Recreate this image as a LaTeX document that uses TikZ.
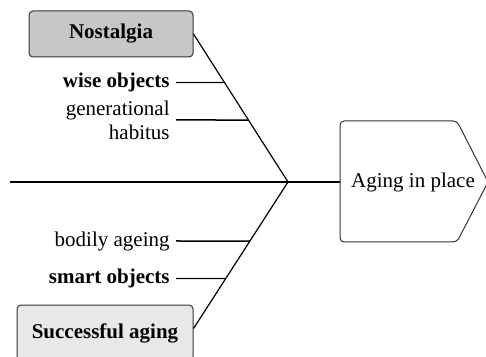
\documentclass[tikz,border=0pt]{standalone}
\usepackage{fontspec}
\setmainfont{Liberation Serif}
\usetikzlibrary{
	positioning				% relative placement
	, calc					% anchor arithmetic
}

\begin{document}
\begin{tikzpicture}[x=.5pt, y=-.5pt, font=\fontsize{10.5}{12}\selectfont]
			\begin{scope}[
				cause/.style={draw=black!80, line width=.5pt, rounded corners=2pt, align=center, font=\fontsize{10.5}{12}\selectfont\bfseries},
				nostalgic/.style={fill=black!22},
				successful/.style={fill=black!9},
				factor/.style={anchor=east, inner xsep=3pt, inner ysep=0, align=right},
				bone/.style={line width=.6pt},
				rib/.style={line width=.75pt},
				thinrib/.style={line width=.6pt}]

				\clip (0, 0) rectangle (486, 357);

				%% Spine
				\coordinate (tail) at (10, 182);
				\coordinate (head) at (288, 182);
				\coordinate (aipin) at (340, 182);
				\node (aip) at (413, 182) {Aging in place};
				\draw[line width=.5pt, draw=black!80, rounded corners=2pt]
					(340, 121) -- (457, 121) -- (488, 182) -- (457, 242) -- (340, 242) -- cycle;
				\draw[rib] (tail) -- (aipin);

				%% Upper bone
				\node[cause, nostalgic, minimum width=82pt, minimum height=23pt] (nostalgia) at (111, 34) {Nostalgia};
				\draw[bone] (nostalgia.east) -- (head);

				\node[factor, font=\fontsize{10.5}{12}\selectfont\bfseries] (wise) at (176, 82.5) {wise objects};
				\node[factor] (habitus) at (176, 120) {generational\\habitus};
				\draw[thinrib] (wise.east) -- (intersection of nostalgia.east--head and wise.east--wise.west);
				\draw[rib] (habitus.east) -- (intersection of nostalgia.east--head and habitus.east--habitus.west);

				%% Lower bone
				\node[cause, successful, minimum width=88pt, minimum height=28pt] (success) at (105, 333) {Successful aging};
				\coordinate (successin) at ([yshift=-12pt]success.north east);
				\draw[bone] (successin) -- (head);

				\node[factor] (bodily) at (176, 241) {bodily ageing};
				\node[factor, font=\fontsize{10.5}{12}\selectfont\bfseries] (smart) at (176, 278.5) {smart objects};
				\draw[rib] (bodily.east) -- (intersection of successin--head and bodily.east--bodily.west);
				\draw[thinrib] (smart.east) -- (intersection of successin--head and smart.east--smart.west);
			\end{scope}
		\end{tikzpicture}
\end{document}
